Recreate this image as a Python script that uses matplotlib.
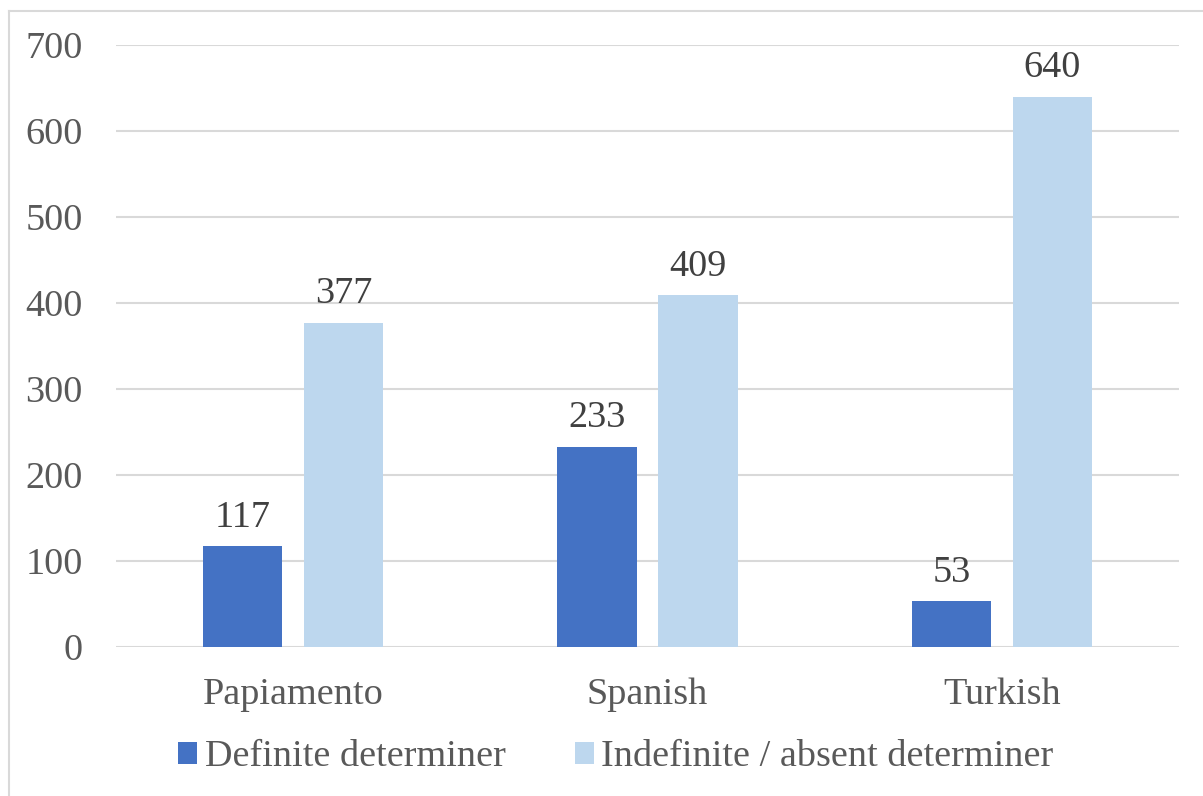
import matplotlib.pyplot as plt
import numpy as np
from matplotlib.lines import Line2D
from matplotlib.patches import Patch

languages = ["Papiamento", "Spanish", "Turkish"]
definite = [117, 233, 53]
indefinite = [377, 409, 640]
series_names = ["Definite determiner", "Indefinite / absent determiner"]
y_ticks = [0, 100, 200, 300, 400, 500, 600, 700]

DARK = "#4472C4"
LIGHT = "#BDD7EE"
GRID = "#D9D9D9"
TICK_TXT = "#595959"
LABEL_TXT = "#404040"

plt.rcParams["font.family"] = ["Liberation Serif", "DejaVu Serif"]
FS = 27.5

W, H = 1203, 796
fig = plt.figure(figsize=(W / 100, H / 100), dpi=100)
ax = fig.add_axes([116 / W, 1 - 647 / H, (1179 - 116) / W, (647 - 45) / H])

x = np.arange(len(languages))
bw = 0.223
off = 0.1425
b1 = ax.bar(x - off, definite, bw, color=DARK, zorder=3)
b2 = ax.bar(x + off, indefinite, bw, color=LIGHT, zorder=3)

for bars, vals in ((b1, definite), (b2, indefinite)):
    for rect, v in zip(bars, vals):
        ax.annotate(str(v), (rect.get_x() + rect.get_width() / 2, v),
                    xytext=(0, 14), textcoords="offset points",
                    ha="center", va="baseline", fontsize=FS, color=LABEL_TXT)

ax.set_xlim(-0.5, len(languages) - 0.5)
ax.set_ylim(0, 700)
ax.set_yticks(y_ticks)
ax.set_xticks(x)
ax.set_xticklabels(languages)
ax.tick_params(axis="both", length=0, labelsize=FS, labelcolor=TICK_TXT)
ax.tick_params(axis="y", pad=24)
ax.tick_params(axis="x", pad=22)
ax.yaxis.grid(True, color=GRID, linewidth=1.5, zorder=0)
for s in ax.spines.values():
    s.set_visible(False)

handles = [Patch(facecolor=DARK), Patch(facecolor=LIGHT)]
leg = fig.legend(handles, series_names, loc="center", bbox_to_anchor=(616 / W, 1 - 757 / H),
                 ncol=2, frameon=False, fontsize=FS, handlelength=0.5, handleheight=0.5,
                 handletextpad=0.2, columnspacing=1.8, borderpad=0)
for t in leg.get_texts():
    t.set_color(TICK_TXT)

# chart-area border: left and top edges
fig.add_artist(Line2D([8.5 / W, 8.5 / W], [0, 1 - 11 / H], color=GRID, linewidth=1.5))
fig.add_artist(Line2D([8.5 / W, 1], [1 - 11 / H, 1 - 11 / H], color=GRID, linewidth=1.5))

fig.savefig("out.png", dpi=100)
